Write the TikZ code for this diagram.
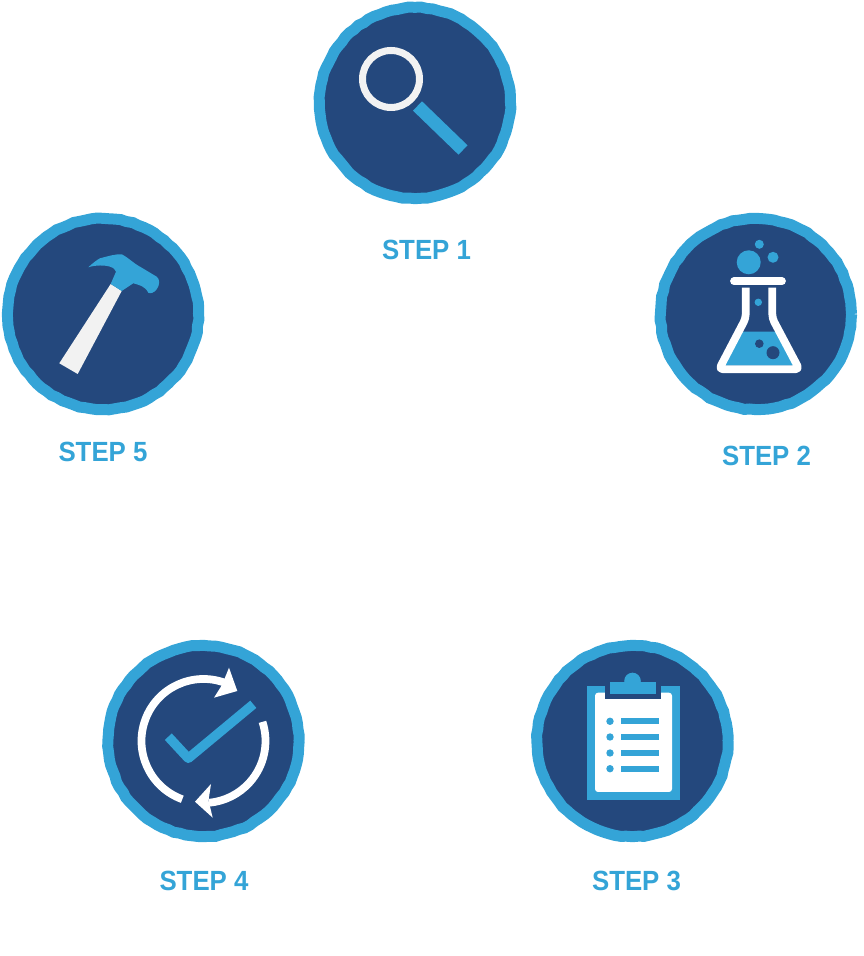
\documentclass[tikz,border=0pt]{standalone}
\usepackage{fontspec}
\setmainfont[FakeStretch=0.93]{Liberation Sans}
\usetikzlibrary{decorations.pathmorphing}
\definecolor{navyblue}{HTML}{24487D}
\definecolor{skyblue}{HTML}{34A4D7}
\definecolor{offwhite}{HTML}{F2F2F2}
\tikzset{
  badge/.style={circle, draw=skyblue, fill=navyblue, line width=0.22cm, minimum size=3.82cm, inner sep=0pt,
    decorate, decoration={random steps, segment length=0.12cm, amplitude=0.01cm}},
  steplabel/.style={text=skyblue, font=\fontsize{15.8}{18}\selectfont\bfseries},
  whiteline/.style={draw=white, line width=0.155cm},
}
\begin{document}
\begin{tikzpicture}[x=0.02cm, y=0.02cm]
  \pgfmathsetseed{7}
  \useasboundingbox (0,0) rectangle (863,956);
  % insignias
  \node[badge] (circ1) at (415,853) {};
  \node[badge] (circ2) at (756,642) {};
  \node[badge] (circ3) at (632.5,215) {};
  \node[badge] (circ4) at (203.5,215) {};
  \node[badge] (circ5) at (103,642) {};
  % etiquetas
  \node[steplabel] (label1) at (426.5,706) {STEP 1};
  \node[steplabel] (label2) at (766.5,500) {STEP 2};
  \node[steplabel] (label3) at (636.5,75) {STEP 3};
  \node[steplabel] (label4) at (204,75) {STEP 4};
  \node[steplabel] (label5) at (103,504) {STEP 5};
  % lupa
  \begin{scope}[shift={(circ1.center)}]
    \draw[skyblue, line width=0.26cm] (2.5,-3) -- (48,-47);
    \draw[offwhite, line width=0.14cm] (-24,24) circle (28.5);
  \end{scope}
  % matraz
  \begin{scope}[shift={(circ2.center)}]
    \fill[skyblue] (-13.3,-17.7) -- (20,-17.7) -- (39,-51.7) -- (-32.7,-51.7) -- cycle;
    \draw[whiteline, line join=round, rounded corners=0.08cm] (-10.3,26.3) -- (-10.3,-4.3) -- (-37,-55.3) -- (43.3,-55.3) -- (16.3,-4.3) -- (16.3,26.3);
    \draw[whiteline, line cap=round] (-22,32.8) -- (26,32.8);
    \fill[skyblue] (-7.3,51.7) circle (12);
    \fill[skyblue] (3.3,69.7) circle (4.5);
    \fill[skyblue] (17,56.7) circle (5.5);
    \fill[skyblue] (2.3,11.7) circle (3.7);
    \fill[navyblue] (3.3,-29.7) circle (4.3);
    \fill[navyblue] (17,-38.7) circle (6.5);
  \end{scope}
  % portapapeles
  \begin{scope}[shift={(circ3.center)}]
    \fill[skyblue] (-46,55) rectangle (47,-59);
    \fill[white, rounded corners=0.06cm] (-37.5,48.3) rectangle (39.5,-51);
    \fill[navyblue] (-27.5,55) rectangle (28.5,42);
    \fill[skyblue] (-23,59) rectangle (23,47);
    \fill[skyblue] (0,60) circle (8.3);
    \foreach \y in {19.7,4,-12,-27.7} {
      \fill[skyblue] (-22.5,\y) circle (3.7);
      \fill[skyblue] (-11.5,\y-3) rectangle (26.8,\y+3);
    }
  \end{scope}
  % flechas y marca
  \begin{scope}[shift={(circ4.center)}]
    \draw[whiteline] (250:62) arc[start angle=250, end angle=70, radius=62];
    \fill[white] (33.8,50) -- (25.5,73.3) -- (18.5,56) -- (10.5,43.3) -- cycle;
    \draw[whiteline] (18:62) arc[start angle=18, end angle=-85, radius=62];
    \fill[white] (-8.5,-60.7) -- (7.5,-43) -- (5,-59.5) -- (9.2,-76.7) -- cycle;
    \draw[skyblue, line width=0.19cm, line join=round] (-35.2,4.3) -- (-15.2,-17.3) -- (49.8,36.7);
  \end{scope}
  % martillo
  \begin{scope}[shift={(circ5.center)}]
    \fill[offwhite] (-43.7,-49.3) -- (-25.3,-60) -- (18.7,23) -- (7.7,30) -- cycle;
    \fill[skyblue] (-14.7,46.7) .. controls (-9,52) and (-6,54) .. (-3,55.7) .. controls (6,58) and (12,60) .. (18.7,59.7)
      .. controls (26,56) and (30,51) .. (37,47.3) -- (53.7,37.3) .. controls (57,35) and (57,29) .. (53.7,24.7) .. controls (51,21) and (47,20) .. (45.3,21.3)
      .. controls (42,28) and (36,29) .. (30.3,30.7) -- (18.7,23) -- (7.7,30) -- (13,42.3) .. controls (11,46) and (9,47) .. (7,47.3) .. controls (2,49) and (-8,49) .. cycle;
  \end{scope}
\end{tikzpicture}
\end{document}
